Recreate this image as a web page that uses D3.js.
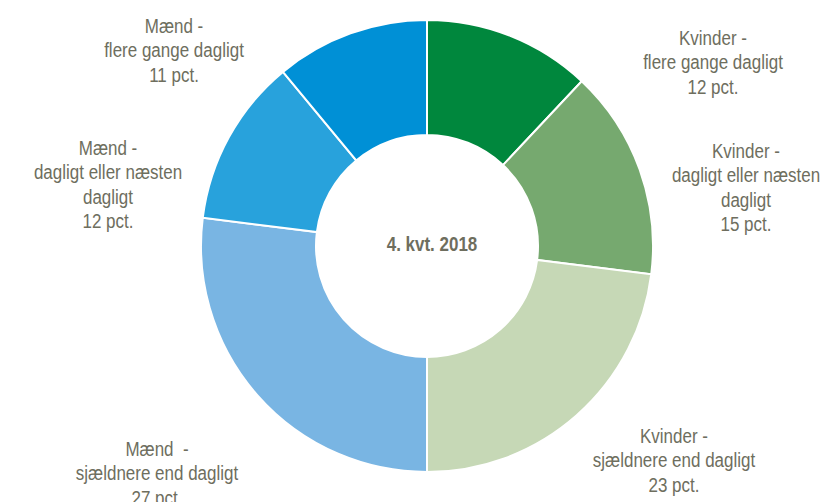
<!DOCTYPE html>
<html>
<head>
<meta charset="utf-8">
<script src="https://cdn.jsdelivr.net/npm/d3@7.9.0/dist/d3.min.js"></script>
<style>
  body { margin: 0; background: #fff; }
  text { font-family: "Liberation Sans", Arial, sans-serif; fill: #6e6e5e; }
</style>
</head>
<body>
<div id="chart"></div>
<script>
// Data
const categories = [
  "Kvinder - flere gange dagligt",
  "Kvinder - dagligt eller næsten dagligt",
  "Kvinder - sjældnere end dagligt",
  "Mænd - sjældnere end dagligt",
  "Mænd - dagligt eller næsten dagligt",
  "Mænd - flere gange dagligt"
];
const values = [12, 15, 23, 27, 12, 11];
const labelLines = [
  ["Kvinder -", "flere gange dagligt", "12 pct."],
  ["Kvinder -", "dagligt eller næsten", "dagligt", "15 pct."],
  ["Kvinder -", "sjældnere end dagligt", "23 pct."],
  ["Mænd  -", "sjældnere end dagligt", "27 pct."],
  ["Mænd -", "dagligt eller næsten", "dagligt", "12 pct."],
  ["Mænd -", "flere gange dagligt", "11 pct."]
];
const centerLabel = "4. kvt. 2018";

// layout
const width = 827;
const height = 502;
const cx = 427, cy = 246;
const outerRadius = 226;
const innerRadius = 111;
const colors = ["#00873d", "#76a96f", "#c6d8b6", "#79b5e3", "#28a2dc", "#0090d6"];
// label anchor (center x, first baseline y)
const labelPos = [
  [713, 45], [746, 158], [674, 443], [157, 456], [108, 155], [174, 33]
];
const lineH = 24.5;
const stretch = 1.15; // text in the original is a bit taller than wide

const svg = d3.select("#chart")
  .append("svg")
  .attr("width", width)
  .attr("height", height);

const g = svg.append("g")
  .attr("transform", `translate(${cx},${cy})`);

const pie = d3.pie().sort(null).value(d => d);
const arc = d3.arc().innerRadius(innerRadius).outerRadius(outerRadius);

g.selectAll(".slice")
  .data(pie(values))
  .enter()
  .append("path")
  .attr("class", "slice")
  .attr("d", arc)
  .attr("fill", (d, i) => colors[i])
  .attr("stroke", "#fff")
  .attr("stroke-width", 2);

g.append("text")
  .attr("transform", `translate(5,5) scale(1,${stretch})`)
  .attr("text-anchor", "middle")
  .style("font-size", "17px")
  .style("font-weight", "bold")
  .text(centerLabel);

const labels = svg.selectAll(".lbl")
  .data(labelLines)
  .enter()
  .append("text")
  .attr("class", "lbl")
  .attr("text-anchor", "middle")
  .attr("transform", (d, i) => `translate(${labelPos[i][0]},${labelPos[i][1]}) scale(1,${stretch})`)
  .style("font-size", "17px");

labels.each(function(lines) {
  const t = d3.select(this);
  lines.forEach((line, j) => {
    t.append("tspan")
      .attr("x", 0)
      .attr("y", j * lineH / stretch)
      .style("white-space", "pre")
      .text(line);
  });
});
</script>
</body>
</html>
